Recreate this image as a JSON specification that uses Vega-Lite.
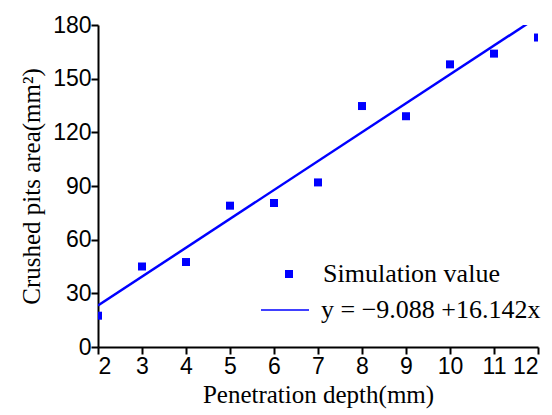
{
  "$schema": "https://vega.github.io/schema/vega-lite/v6.json",
  "autosize": "none",
  "padding": {"left": 98, "top": 25, "right": 14, "bottom": 68},
  "width": 440,
  "height": 322,
  "background": "white",
  "config": {
    "view": {"stroke": null},
    "axis": {
      "grid": false,
      "domainColor": "black",
      "domainWidth": 2,
      "tickColor": "black",
      "tickWidth": 2,
      "labelFont": "Liberation Sans",
      "labelFontSize": 23,
      "labelColor": "black",
      "titleFont": "Liberation Serif",
      "titleFontSize": 25,
      "titleFontWeight": "normal",
      "titleColor": "black"
    }
  },
  "datasets": {
    "sim": [
      {"depth": 2, "area": 17.5, "series": "Simulation value"},
      {"depth": 3, "area": 45, "series": "Simulation value"},
      {"depth": 4, "area": 47.5, "series": "Simulation value"},
      {"depth": 5, "area": 79, "series": "Simulation value"},
      {"depth": 6, "area": 80.5, "series": "Simulation value"},
      {"depth": 7, "area": 92, "series": "Simulation value"},
      {"depth": 8, "area": 134.7, "series": "Simulation value"},
      {"depth": 9, "area": 129, "series": "Simulation value"},
      {"depth": 10, "area": 158, "series": "Simulation value"},
      {"depth": 11, "area": 164, "series": "Simulation value"},
      {"depth": 12, "area": 173, "series": "Simulation value"}
    ],
    "fit": [
      {"depth": 2, "area": 23.196, "series": "y = −9.088 +16.142x"},
      {"depth": 12, "area": 184.616, "series": "y = −9.088 +16.142x"}
    ]
  },
  "layer": [
    {
      "data": {"name": "sim"},
      "mark": {"type": "point", "filled": true, "color": "#0000ff", "opacity": 1, "clip": true, "size": 64},
      "encoding": {
        "x": {
          "field": "depth",
          "type": "quantitative",
          "scale": {"domain": [2, 12], "nice": false, "zero": false},
          "axis": {
            "values": [2,3,4,5,6,7,8,9,10,11,12],
            "title": "Penetration depth(mm)",
            "ticks": true,
            "tickSize": 7,
            "labelPadding": 1,
            "titlePadding": 4,
            "encode": {"ticks": {"update": {"y2": {"value": -7}}}}
          }
        },
        "y": {
          "field": "area",
          "type": "quantitative",
          "scale": {"domain": [0, 180], "nice": false},
          "axis": {
            "values": [0,30,60,90,120,150,180],
            "title": "Crushed pits area(mm²)",
            "ticks": true,
            "tickSize": 7,
            "labelPadding": 0,
            "titlePadding": 8,
            "encode": {"ticks": {"update": {"x2": {"value": 7}}}}
          }
        },
        "shape": {
          "field": "series",
          "type": "nominal",
          "scale": {"domain": ["Simulation value"], "range": ["square"]},
          "legend": {
            "title": null,
            "orient": "none",
            "legendX": 178,
            "legendY": 236,
            "labelFont": "Liberation Serif",
            "labelFontSize": 26,
            "labelColor": "black",
            "labelLimit": 400,
            "symbolFillColor": "#0000ff",
            "symbolStrokeColor": "#0000ff",
            "symbolSize": 64,
            "labelOffset": 21
          }
        }
      }
    },
    {
      "data": {"name": "fit"},
      "mark": {"type": "line", "strokeWidth": 2.5, "clip": true},
      "encoding": {
        "x": {"field": "depth", "type": "quantitative"},
        "y": {"field": "area", "type": "quantitative"},
        "stroke": {
          "field": "series",
          "type": "nominal",
          "scale": {"domain": ["y = −9.088 +16.142x"], "range": ["#0000ff"]},
          "legend": {
            "title": null,
            "orient": "none",
            "legendX": 162,
            "legendY": 260,
            "labelFont": "Liberation Serif",
            "labelFontSize": 26,
            "labelColor": "black",
            "labelLimit": 400,
            "symbolType": "stroke",
            "symbolSize": 2304,
            "symbolStrokeWidth": 1.5,
            "labelOffset": 11
          }
        }
      }
    }
  ]
}
